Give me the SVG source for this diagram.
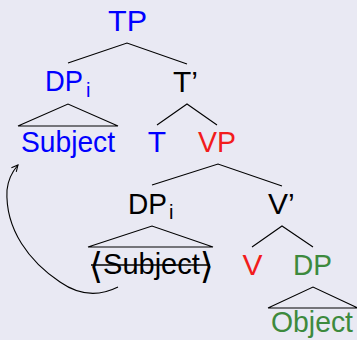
<svg xmlns="http://www.w3.org/2000/svg" width="357" height="340" viewBox="0 0 357 340">
  <style>
    text { font-family: "Liberation Sans", "DejaVu Sans", sans-serif; font-size: 30px; }
    .mid { text-anchor: middle; }
    .sub { font-size: 20px; }
    .angle { font-family: "DejaVu Sans", sans-serif; font-size: 36px; }
    .blue { fill: #0000ff; }
    .red { fill: #f21c1c; }
    .green { fill: #3d8a3d; }
    .black { fill: #000000; }
    .edge { stroke: #000000; stroke-width: 1.1; fill: none; }
    .tri { stroke: #000000; stroke-width: 1.1; fill: none; stroke-linejoin: miter; }
    .strike { stroke: #000000; stroke-width: 1.5; }
  </style>
  <defs>
    <marker id="head" viewBox="0 0 10 10" refX="9" refY="5" markerWidth="8" markerHeight="8" markerUnits="userSpaceOnUse" orient="auto">
      <path d="M1,1 L9,5 L1,9" fill="none" stroke="#000" stroke-width="1.3"/>
    </marker>
  </defs>
  <rect width="357" height="340" fill="#e9e9f3"/>

  <!-- branches of the tree and the movement arrow -->
  <g id="connectors">
    <path class="edge" d="M68,63 L127,43 L187,64"/>
    <path class="edge" d="M157,125 L187,104 L217,125"/>
    <path class="edge" d="M152,185 L218,164 L282,186"/>
    <path class="edge" d="M252,247 L282,226 L313,247"/>
    <path class="tri" d="M18,126 L68,104 L118,126 Z"/>
    <path class="tri" d="M88,247 L152,226 L213,247 Z"/>
    <path class="tri" d="M268,308 L313,287 L358,308 L268,308"/>
    <path class="edge" d="M118,287 C100,296 80,296 60,282 C30,262 5,230 7,190 C8,180 12,172 18,165" marker-end="url(#head)"/>
  </g>

  <g id="tp"><text class="blue" x="108" y="31" textLength="39" lengthAdjust="spacingAndGlyphs">TP</text></g>
  <g id="dp-subject">
    <text class="blue" x="45" y="91" textLength="38" lengthAdjust="spacingAndGlyphs">DP</text>
    <text class="blue sub" x="86" y="97">i</text>
  </g>
  <g id="t-bar"><text class="black" x="173" y="92">T’</text></g>
  <g id="subject"><text class="blue" x="21" y="152" textLength="94" lengthAdjust="spacingAndGlyphs">Subject</text></g>
  <g id="t"><text class="mid blue" x="157" y="152">T</text></g>
  <g id="vp"><text class="red" x="198" y="152" textLength="38" lengthAdjust="spacingAndGlyphs">VP</text></g>
  <g id="dp-trace">
    <text class="black" x="128" y="214" textLength="39" lengthAdjust="spacingAndGlyphs">DP</text>
    <text class="black sub" x="169" y="219">i</text>
  </g>
  <g id="v-bar"><text class="black" x="268" y="214">V’</text></g>
  <g id="trace">
    <text class="black" x="89" y="278"><tspan class="angle">⟨</tspan><tspan dy="-4" font-size="29">Subject</tspan><tspan class="angle" dy="4">⟩</tspan></text>
    <line class="strike" x1="91" y1="265" x2="210" y2="265"/>
  </g>
  <g id="v"><text class="mid red" x="252.5" y="275">V</text></g>
  <g id="dp-object"><text class="green" x="293" y="275" textLength="39" lengthAdjust="spacingAndGlyphs">DP</text></g>
  <g id="object"><text class="green" x="271" y="332" textLength="82" lengthAdjust="spacingAndGlyphs">Object</text></g>
</svg>
